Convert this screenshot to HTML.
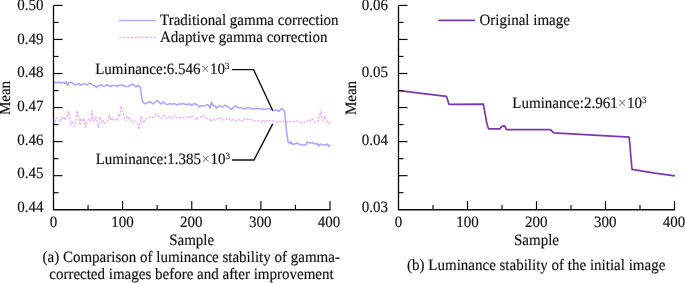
<!DOCTYPE html>
<html><head><meta charset="utf-8"><style>
html,body{margin:0;padding:0;background:#fff;overflow:hidden}
svg{display:block}
text{font-family:"Liberation Serif",serif;font-size:15px;fill:#111;text-rendering:geometricPrecision;stroke:#111;stroke-width:0.15px}
</style></head><body>
<svg width="685" height="283" viewBox="0 0 685 283">
<defs><filter id="bl" x="0" y="0" width="100%" height="100%"><feGaussianBlur stdDeviation="0.4"/></filter></defs>
<g filter="url(#bl)">
<rect width="685" height="283" fill="#fff"/>
<polyline points="53.5,125 55.1,121.5 56.4,117.5 58.2,118.8 59.1,120.1 60.4,121.5 60.8,119.7 62.2,117 63,118.4 63.9,119.7 64.8,117 66.1,119.3 67,116.6 67.9,114.8 68.3,111.7 69.2,114.8 69.7,117.9 70.6,121.5 71,125 72.3,121.9 73.2,123.7 74.1,126.3 75.4,123.7 75.9,119.3 76.3,114.8 76.7,111.3 77.3,110.6 77.8,114.6 78.7,117.7 79.5,121.7 80,125.2 80.9,118.6 82.2,119.5 83.5,121.7 84.4,118.1 84.8,124.3 85.7,127 86.6,123 87.9,119.9 89.3,118.6 90.6,121.2 91.5,117.3 91.9,114.2 92.2,110.6 92.8,117.7 93.7,122.1 94.6,119.5 95.9,116.8 96.8,120.3 97.6,123.9 98.5,127.4 99.4,120.8 99.9,116.8 100.8,120.3 102.1,123 103.4,120.8 104.3,123.4 105.6,122.6 107.4,121.7 108.7,118.1 109.2,114.6 110,117.7 111.4,120.3 112.3,117.3 113.1,120.3 114,120.8 115.3,119.5 116.2,119 117.6,120.3 118,117.3 118.4,114.2 119.8,115.5 120.2,112.8 120.6,109.7 121.3,105.7 122,108.9 122.9,112 123.5,115.3 124.8,118.8 125.8,121 126.9,116.2 128.5,118.3 129.5,117.8 130.6,119.9 132.2,123.1 133.2,121.5 134.8,121 136.4,121.5 137.5,123.6 138.5,126.2 139.1,129.4 139.6,125.2 140.1,122.5 140.7,119.9 141.2,115.7 141.7,117.8 142.8,122 143.8,123.1 144.6,119.9 146,119 148,117.5 150,117 152,118 154,117 156,114.5 158,116 160,117.5 162,118.5 163.5,115.5 166,117.5 168,118.5 170,116 172,118.5 175,116 178,118.5 181,117.5 184,118 187,117 189.5,118.5 190.5,115.5 193,117 195,118.5 196.5,120 198,118 200,117.5 203,115.5 205,118 207,118.5 209,119 211,121.5 213.5,118.5 215,120 217,118.5 219,119.5 221,118 223,120 225,118.5 227,119 229,118.5 231,121 233,119.5 235,120 237,121 239,119.5 241,120 243,121.5 245,119 247,118.5 249,120 251,119.5 253,120 255,121 257,120 259,121 261,121.5 263,120 265,122 267,120.5 269,121.5 271,120 273,120.5 275,121.5 277,122 279,121 281,122 283,121 285,122.5 288.5,121.8 291.2,121.3 293.8,121.8 296.9,120.7 300,122.2 302.7,122.7 305.3,121.6 307.5,120.7 309.7,121.8 312,118.4 314.2,122.2 316.4,120.7 318.6,120.5 319,116.5 320.3,113 320.5,109.9 321.2,113.4 321.7,117.4 323,120.5 324.8,116 325.2,118.3 325.6,120 327,121.3 328.3,123.6 330,122" fill="none" stroke="#e4aefc" stroke-width="1.3" stroke-dasharray="2.3 1.4" stroke-linejoin="round"/>
<polyline points="53.5,83.2 55,82.3 57,83 59,82 61,83 63,82.5 65,83.2 66,81.8 67.7,85.5 69,82.5 71,82.5 73,83.5 75.2,85.1 77,84.6 78.5,83.3 80.5,85.2 83,84 86,84 87.5,85 89,83.5 91,83.5 93,85.5 95,86 96.6,87.6 98,85.5 99.5,85.8 101,84.5 103,86 105,86 107,84.8 110,86.5 112,85.5 115,85.2 117,86.5 119,85.3 122,84.8 125,86.5 128,86.5 130,85.5 132.5,84.3 134,85 136,87 138,85.5 139.5,86.5 140.5,88 141.3,95 141.8,98.5 143,102 144.5,103.8 147,103 149.7,101.7 151,102.5 153.3,103.9 155,102.5 156.8,100.8 158.5,101.5 161,103.9 163.5,101.8 166,104.5 168,104.2 170,103.5 172,104.5 174,103.5 176,104.5 177.5,105 179,103.7 181,104.3 183,103.5 185,104 187,105.1 188.6,103.5 191.5,105.5 194.5,103.3 197,105 199,107 201,105.7 204,105.7 206,105.5 207.5,104.6 209,105.5 210,108 211.5,102 213,105.6 215,106 216.5,108 218.5,106.5 220,105.5 222.5,107.5 224.5,105.3 228,106.5 231,109.5 234,107 235.5,105.8 238,107.8 241,107.8 244.5,109 248.5,107.6 252,109 256,108.5 259,108.8 262,108.6 263,109.8 266,109 270,108.5 272.5,110.5 275,110.2 277,110.3 279,111.5 281.5,108.5 283.5,110 284.5,111.5 285.5,121 287,135.3 288,141.5 290,143.8 291,142 293,144.5 297,143 300,144.5 302,145 306,145 307,142 310,143 312,142.5 315,144 317,143.5 318.5,146 320,144 323,145 325,145 327,144 329,146.5 330,144.5" fill="none" stroke="#b2a4ff" stroke-width="1.6" stroke-linejoin="round"/>
<path d="M53.5 5.4V209.7" fill="none" stroke="#111" stroke-width="1.35"/>
<path d="M52.9 209.7H330.6" fill="none" stroke="#111" stroke-width="1.6"/>
<path d="M53.5 5.40h9" stroke="#111" stroke-width="1.2"/>
<path d="M53.5 22.42h5" stroke="#111" stroke-width="1.2"/>
<path d="M53.5 39.45h9" stroke="#111" stroke-width="1.2"/>
<path d="M53.5 56.47h5" stroke="#111" stroke-width="1.2"/>
<path d="M53.5 73.50h9" stroke="#111" stroke-width="1.2"/>
<path d="M53.5 90.53h5" stroke="#111" stroke-width="1.2"/>
<path d="M53.5 107.55h9" stroke="#111" stroke-width="1.2"/>
<path d="M53.5 124.57h5" stroke="#111" stroke-width="1.2"/>
<path d="M53.5 141.60h9" stroke="#111" stroke-width="1.2"/>
<path d="M53.5 158.62h5" stroke="#111" stroke-width="1.2"/>
<path d="M53.5 175.65h9" stroke="#111" stroke-width="1.2"/>
<path d="M53.5 192.67h5" stroke="#111" stroke-width="1.2"/>
<path d="M88.06 209.7v-4.8" stroke="#111" stroke-width="1.2"/>
<path d="M122.62 209.7v-8.6" stroke="#111" stroke-width="1.2"/>
<path d="M157.19 209.7v-4.8" stroke="#111" stroke-width="1.2"/>
<path d="M191.75 209.7v-8.6" stroke="#111" stroke-width="1.2"/>
<path d="M226.31 209.7v-4.8" stroke="#111" stroke-width="1.2"/>
<path d="M260.88 209.7v-8.6" stroke="#111" stroke-width="1.2"/>
<path d="M295.44 209.7v-4.8" stroke="#111" stroke-width="1.2"/>
<path d="M330.00 209.7v-8.6" stroke="#111" stroke-width="1.2"/>
<text transform="translate(43.5 10.10) scale(1 1.055)" text-anchor="end">0.50</text>
<text transform="translate(43.5 43.72) scale(1 1.055)" text-anchor="end">0.49</text>
<text transform="translate(43.5 77.34) scale(1 1.055)" text-anchor="end">0.48</text>
<text transform="translate(43.5 110.96) scale(1 1.055)" text-anchor="end">0.47</text>
<text transform="translate(43.5 144.58) scale(1 1.055)" text-anchor="end">0.46</text>
<text transform="translate(43.5 178.20) scale(1 1.055)" text-anchor="end">0.45</text>
<text transform="translate(43.5 211.82) scale(1 1.055)" text-anchor="end">0.44</text>
<text transform="translate(53.50 226.7) scale(1 1.055)" text-anchor="middle">0</text>
<text transform="translate(122.40 226.7) scale(1 1.055)" text-anchor="middle">100</text>
<text transform="translate(191.30 226.7) scale(1 1.055)" text-anchor="middle">200</text>
<text transform="translate(260.20 226.7) scale(1 1.055)" text-anchor="middle">300</text>
<text transform="translate(329.10 226.7) scale(1 1.055)" text-anchor="middle">400</text>
<text transform="translate(191.7 245.2) scale(1 1.055)" text-anchor="middle">Sample</text>
<text transform="translate(10.2 98) rotate(-90) scale(1 1.055)" text-anchor="middle">Mean</text>
<path d="M119 20.5H156" stroke="#b8a8ff" stroke-width="1.5"/>
<path d="M119 37.3H156.3" stroke="#e4aefc" stroke-width="1.2" stroke-dasharray="2.4 1.45"/>
<text transform="translate(160 25.0) scale(1 1.055)">Traditional gamma correction</text>
<text transform="translate(160 41.5) scale(1 1.055)">Adaptive gamma correction</text>
<text transform="translate(95.2 73.7) scale(1 1.055)">Luminance:6.546<tspan dx="0.4" fill="#666" stroke="none">×</tspan><tspan dx="0.5">10</tspan><tspan font-size="9" dy="-4.8">3</tspan></text>
<text transform="translate(95.7 163.6) scale(1 1.055)">Luminance:1.385<tspan dx="0.4" fill="#666" stroke="none">×</tspan><tspan dx="0.5">10</tspan><tspan font-size="9" dy="-4.8">3</tspan></text>
<path d="M232 69.6H253.6L272.7 110.5" fill="none" stroke="#111" stroke-width="1.4"/>
<path d="M232 160H254L272.7 123.9" fill="none" stroke="#111" stroke-width="1.4"/>
<text transform="translate(191.2 261.6) scale(1 1.055)" text-anchor="middle">(a) Comparison of luminance stability of gamma-</text>
<text transform="translate(191.45 279.3) scale(1 1.055)" text-anchor="middle">corrected images before and after improvement</text>
<polyline points="398.8,90.7 446.5,96.4 449,104.3 483.3,104.1 485.6,116.5 486.8,123.6 488.6,128.9 499.7,128.9 502.2,126.2 504.5,125.9 506.8,129.7 550.5,129.6 553.7,132.8 629.2,137.2 632,169.3 654.9,173.2 674.9,175.8" fill="none" stroke="#7a3aa8" stroke-width="1.7" stroke-linejoin="round"/>
<path d="M398.5 5.4V209.7" fill="none" stroke="#111" stroke-width="1.35"/>
<path d="M397.9 209.7H675.1" fill="none" stroke="#111" stroke-width="1.6"/>
<path d="M398.5 5.40h9" stroke="#111" stroke-width="1.2"/>
<path d="M398.5 22.42h5" stroke="#111" stroke-width="1.2"/>
<path d="M398.5 39.45h9" stroke="#111" stroke-width="1.2"/>
<path d="M398.5 56.47h5" stroke="#111" stroke-width="1.2"/>
<path d="M398.5 73.50h9" stroke="#111" stroke-width="1.2"/>
<path d="M398.5 90.53h5" stroke="#111" stroke-width="1.2"/>
<path d="M398.5 107.55h9" stroke="#111" stroke-width="1.2"/>
<path d="M398.5 124.57h5" stroke="#111" stroke-width="1.2"/>
<path d="M398.5 141.60h9" stroke="#111" stroke-width="1.2"/>
<path d="M398.5 158.62h5" stroke="#111" stroke-width="1.2"/>
<path d="M398.5 175.65h9" stroke="#111" stroke-width="1.2"/>
<path d="M398.5 192.67h5" stroke="#111" stroke-width="1.2"/>
<path d="M433.00 209.7v-4.8" stroke="#111" stroke-width="1.2"/>
<path d="M467.50 209.7v-8.6" stroke="#111" stroke-width="1.2"/>
<path d="M502.00 209.7v-4.8" stroke="#111" stroke-width="1.2"/>
<path d="M536.50 209.7v-8.6" stroke="#111" stroke-width="1.2"/>
<path d="M571.00 209.7v-4.8" stroke="#111" stroke-width="1.2"/>
<path d="M605.50 209.7v-8.6" stroke="#111" stroke-width="1.2"/>
<path d="M640.00 209.7v-4.8" stroke="#111" stroke-width="1.2"/>
<path d="M674.50 209.7v-8.6" stroke="#111" stroke-width="1.2"/>
<text transform="translate(388 10.10) scale(1 1.055)" text-anchor="end">0.06</text>
<text transform="translate(388 77.34) scale(1 1.055)" text-anchor="end">0.05</text>
<text transform="translate(388 144.58) scale(1 1.055)" text-anchor="end">0.04</text>
<text transform="translate(388 211.82) scale(1 1.055)" text-anchor="end">0.03</text>
<text transform="translate(398.50 226.7) scale(1 1.055)" text-anchor="middle">0</text>
<text transform="translate(467.40 226.7) scale(1 1.055)" text-anchor="middle">100</text>
<text transform="translate(536.30 226.7) scale(1 1.055)" text-anchor="middle">200</text>
<text transform="translate(605.20 226.7) scale(1 1.055)" text-anchor="middle">300</text>
<text transform="translate(674.10 226.7) scale(1 1.055)" text-anchor="middle">400</text>
<text transform="translate(536.5 245.2) scale(1 1.055)" text-anchor="middle">Sample</text>
<text transform="translate(356 98) rotate(-90) scale(1 1.055)" text-anchor="middle">Mean</text>
<path d="M438.3 20.4H475" stroke="#7a3aa8" stroke-width="1.7"/>
<text transform="translate(479.5 25.4) scale(1 1.055)">Original image</text>
<text transform="translate(512.3 108) scale(1 1.055)">Luminance:2.961<tspan dx="0.4" fill="#666" stroke="none">×</tspan><tspan dx="0.5">10</tspan><tspan font-size="9" dy="-4.8">3</tspan></text>
<text transform="translate(536.2 270.1) scale(1 1.055)" text-anchor="middle">(b) Luminance stability of the initial image</text>
</g>
</svg></body></html>
